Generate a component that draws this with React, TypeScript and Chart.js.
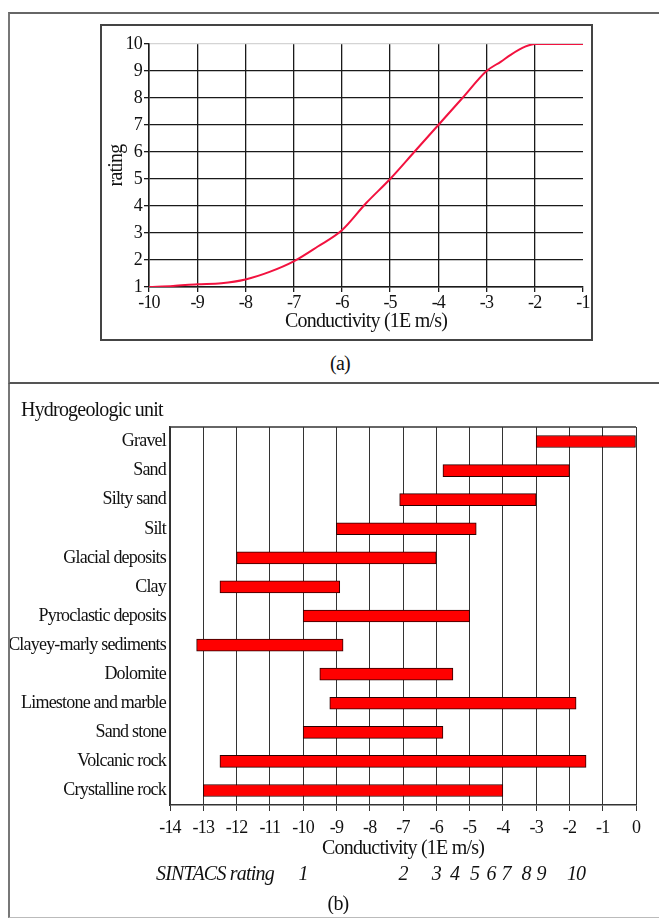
import React, { useEffect, useRef } from 'react';
import { Chart, registerables } from 'chart.js';

Chart.register(...registerables);

// ---------- Panel (a): rating vs conductivity ----------
const conductivityA = [-10, -9.5, -9, -8.5, -8, -7.5, -7, -6.5, -6, -5.5, -5, -4.5, -4, -3.5, -3, -2.7, -2.5, -2.2, -2, -1.5, -1];
const ratingA = [1, 1.04, 1.1, 1.14, 1.28, 1.56, 1.95, 2.5, 3.1, 4.1, 5.0, 6.0, 7.0, 8.0, 9.0, 9.35, 9.6, 9.9, 10, 10, 10];

// ---------- Panel (b): conductivity ranges per hydrogeologic unit ----------
const units = [
  'Gravel',
  'Sand',
  'Silty sand',
  'Silt',
  'Glacial deposits',
  'Clay',
  'Pyroclastic deposits',
  'Clayey-marly sediments',
  'Dolomite',
  'Limestone and marble',
  'Sand stone',
  'Volcanic rock',
  'Crystalline rock',
];
const rangeMin = [-3, -5.8, -7.1, -9, -12, -12.5, -10, -13.2, -9.5, -9.2, -10, -12.5, -13];
const rangeMax = [0, -2, -3, -4.8, -6, -8.9, -5, -8.8, -5.5, -1.8, -5.8, -1.5, -4];

const sintacsLabels = ['1', '2', '3', '4', '5', '6', '7', '8', '9', '10'];
const sintacsAt = [-10, -7, -6, -5.45, -4.85, -4.35, -3.9, -3.3, -2.85, -1.8];

const SERIF = "'Liberation Serif', 'DejaVu Serif', 'Times New Roman', serif";
const INK = '#111';
const TIGHT = '-0.8px';

const condense = {
  id: 'condense',
  beforeDraw(chart: any) {
    (chart.ctx as any).letterSpacing = TIGHT;
  },
  afterDraw(chart: any) {
    (chart.ctx as any).letterSpacing = '0px';
  },
};

export default function App() {
  const refA = useRef<HTMLCanvasElement>(null);
  const refB = useRef<HTMLCanvasElement>(null);

  useEffect(() => {
    const chartA = new Chart(refA.current as HTMLCanvasElement, {
      type: 'line',
      data: {
        datasets: [
          {
            data: conductivityA.map((x, i) => ({ x, y: ratingA[i] })),
            borderColor: '#f2123f',
            borderWidth: 2,
            pointRadius: 0,
            cubicInterpolationMode: 'monotone',
            fill: false,
          },
        ],
      },
      options: {
        animation: false,
        responsive: false,
        devicePixelRatio: 1,
        layout: { padding: { top: 18, right: 8, bottom: 0, left: 0 } },
        plugins: { legend: { display: false }, tooltip: { enabled: false } },
        scales: {
          x: {
            type: 'linear',
            min: -10,
            max: -1,
            afterFit: (s: any) => {
              s.height = 52;
            },
            ticks: { stepSize: 1, padding: 0, autoSkip: false, maxRotation: 0, color: INK, font: { size: 18, family: SERIF } },
            grid: {
              color: (c: any) => (c.tick && c.tick.value === -1 ? 'rgba(0,0,0,0)' : '#1a1a1a'),
              tickColor: '#1a1a1a',
              lineWidth: 1.3,
              tickLength: 5,
            },
            border: { color: '#1a1a1a', width: 1.5 },
            title: {
              display: true,
              text: 'Conductivity (1E m/s)',
              color: INK,
              font: { size: 20, family: SERIF },
              padding: { top: 0, bottom: 5 },
            },
          },
          y: {
            type: 'linear',
            min: 1,
            max: 10,
            afterFit: (s: any) => {
              s.width = 47;
            },
            ticks: { stepSize: 1, padding: 2, autoSkip: false, color: INK, font: { size: 18, family: SERIF } },
            grid: {
              color: (c: any) => (c.tick && c.tick.value === 10 ? '#d4d4d4' : '#1a1a1a'),
              tickColor: '#1a1a1a',
              lineWidth: 1.3,
              tickLength: 5,
            },
            border: { color: '#1a1a1a', width: 1.5 },
            title: {
              display: true,
              text: 'rating',
              color: INK,
              font: { size: 20, family: SERIF },
              padding: { top: 3, bottom: 0 },
            },
          },
        },
      },
      plugins: [condense],
    } as any);

    const textPlugin = {
      id: 'panelText',
      afterDraw(chart: any) {
        const { ctx, chartArea, scales } = chart;
        ctx.save();
        (ctx as any).letterSpacing = TIGHT;
        // top frame line of the plot
        ctx.strokeStyle = '#333';
        ctx.lineWidth = 1.5;
        ctx.beginPath();
        ctx.moveTo(chartArea.left, chartArea.top);
        ctx.lineTo(chartArea.right, chartArea.top);
        ctx.stroke();

        ctx.fillStyle = INK;
        ctx.textBaseline = 'middle';
        // axis heading
        ctx.font = `20px ${SERIF}`;
        ctx.textAlign = 'left';
        ctx.fillText('Hydrogeologic unit', 11, 25);

        // SINTACS rating row
        const rowY = 489;
        ctx.font = `italic 20px ${SERIF}`;
        ctx.fillText('SINTACS rating', 146, rowY);
        ctx.textAlign = 'center';
        sintacsLabels.forEach((lab, i) => {
          ctx.fillText(lab, scales.x.getPixelForValue(sintacsAt[i]), rowY);
        });

        // panel caption
        ctx.font = `20px ${SERIF}`;
        ctx.fillText('(b)', 328, 519);
        ctx.restore();
      },
    };

    const chartB = new Chart(refB.current as HTMLCanvasElement, {
      type: 'bar',
      data: {
        labels: units,
        datasets: [
          {
            data: rangeMin.map((a, i) => [a, rangeMax[i]]),
            backgroundColor: '#ff0000',
            borderColor: '#2a0000',
            borderWidth: 1,
            borderSkipped: false,
            barThickness: 12,
          },
        ],
      },
      options: {
        indexAxis: 'y',
        animation: false,
        responsive: false,
        devicePixelRatio: 1,
        layout: { padding: { top: 41, right: 14, bottom: 53, left: 0 } },
        plugins: { legend: { display: false }, tooltip: { enabled: false } },
        scales: {
          x: {
            type: 'linear',
            min: -14,
            max: 0,
            afterFit: (s: any) => {
              s.height = 56;
            },
            ticks: { stepSize: 1, padding: 6, autoSkip: false, maxRotation: 0, color: INK, font: { size: 18, family: SERIF } },
            grid: { color: '#333', lineWidth: 1, tickLength: 6 },
            border: { color: '#333', width: 1.5 },
            title: {
              display: true,
              text: 'Conductivity (1E m/s)',
              color: INK,
              font: { size: 20, family: SERIF },
              padding: { top: 0, bottom: 0 },
            },
          },
          y: {
            type: 'category',
            afterFit: (s: any) => {
              s.width = 160;
            },
            grid: { display: false, drawTicks: false },
            border: { display: true, color: '#333', width: 1.5 },
            ticks: { padding: 4, autoSkip: false, color: INK, font: { size: 18, family: SERIF } },
          },
        },
      },
      plugins: [condense, textPlugin],
    } as any);

    return () => {
      chartA.destroy();
      chartB.destroy();
    };
  }, []);

  return (
    <div
      style={{
        position: 'absolute',
        left: 0,
        top: 0,
        width: 659,
        height: 918,
        overflow: 'hidden',
        background: '#fff',
        fontFamily: SERIF,
        color: INK,
      }}
    >
      {/* top panel frame */}
      <div
        style={{
          position: 'absolute',
          left: 8,
          top: 12,
          width: 660,
          height: 372,
          boxSizing: 'border-box',
          borderTop: '2px solid #666',
          borderLeft: '2px solid #777',
          borderBottom: '2px solid #555',
        }}
      />
      {/* bottom panel frame */}
      <div
        style={{
          position: 'absolute',
          left: 8,
          top: 384,
          width: 660,
          height: 534,
          boxSizing: 'border-box',
          borderLeft: '2px solid #777',
          borderBottom: '1px solid #bbb',
        }}
      />
      {/* inner box of (a) */}
      <div
        style={{
          position: 'absolute',
          left: 100,
          top: 24,
          width: 493,
          height: 317,
          boxSizing: 'border-box',
          border: '2px solid #444',
        }}
      />
      <canvas
        ref={refA}
        width={489}
        height={313}
        style={{ position: 'absolute', left: 102, top: 26, width: 489, height: 313 }}
      />
      <div
        style={{
          position: 'absolute',
          left: 300,
          top: 351,
          width: 80,
          textAlign: 'center',
          fontSize: 20,
          lineHeight: '24px',
          letterSpacing: TIGHT,
        }}
      >
        (a)
      </div>
      <canvas
        ref={refB}
        width={640}
        height={528}
        style={{ position: 'absolute', left: 10, top: 386, width: 640, height: 528 }}
      />
    </div>
  );
}
